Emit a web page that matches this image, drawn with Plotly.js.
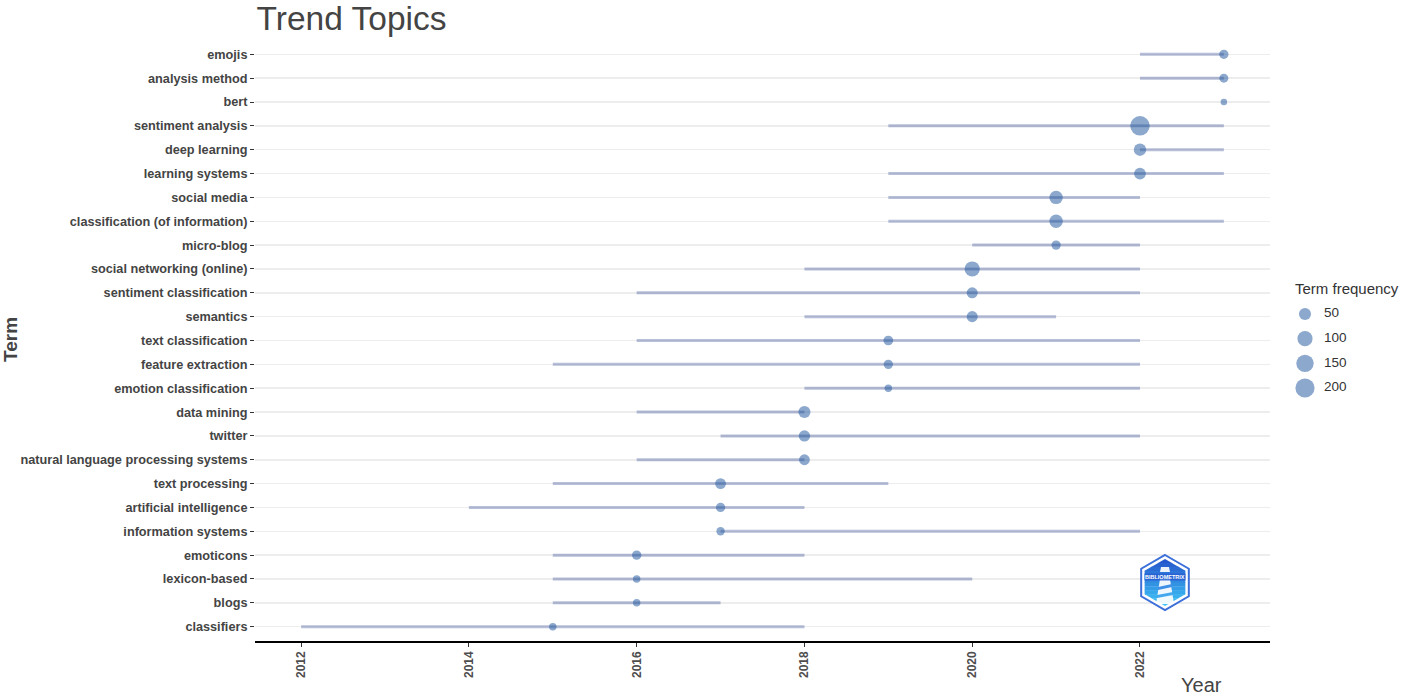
<!DOCTYPE html>
<html>
<head>
<meta charset="utf-8">
<script src="https://cdn.plot.ly/plotly-3.0.1.min.js"></script>
<style>html,body{margin:0;padding:0;background:#fff;}#chart{width:1408px;height:696px;}</style>
</head>
<body>
<div id="chart"></div>
<script>
// ---- data (top to bottom as shown) ----
const terms = ["emojis","analysis method","bert","sentiment analysis","deep learning","learning systems","social media","classification (of information)","micro-blog","social networking (online)","sentiment classification","semantics","text classification","feature extraction","emotion classification","data mining","twitter","natural language processing systems","text processing","artificial intelligence","information systems","emoticons","lexicon-based","blogs","classifiers"];
const yearQ1 = [2022,2022,2023,2019,2022,2019,2019,2019,2020,2018,2016,2018,2016,2015,2018,2016,2017,2016,2015,2014,2017,2015,2015,2015,2012];
const yearMedian = [2023,2023,2023,2022,2022,2022,2021,2021,2021,2020,2020,2020,2019,2019,2019,2018,2018,2018,2017,2017,2017,2016,2016,2016,2015];
const yearQ3 = [2023,2023,2023,2023,2023,2023,2022,2023,2022,2022,2022,2021,2022,2022,2022,2018,2022,2018,2019,2018,2022,2018,2020,2017,2018];
const termFreq = [23,21,14,209,54,46,69,69,23,100,38,38,26,23,15,50,41,35,35,23,18,23,15,15,15];
const legendFreq = [50,100,150,200];
const xTickVals = [2012,2014,2016,2018,2020,2022];

// ---- styling helpers ----
const FONT = "Liberation Sans, Arial, sans-serif";
const fMin = 14, fMax = 209, dMin = 6.5, dMax = 19.5;
function sizeOf(f){ const t = Math.max(0, Math.min(1.05, (f - fMin)/(fMax - fMin))); return dMin + (dMax - dMin)*Math.sqrt(t); }
const dotColor = "rgba(33,86,158,0.74)";
const segColor = "rgba(45,66,145,0.34)";

// segments
const segX = [], segY = [];
terms.forEach((t,i)=>{ segX.push(yearQ1[i], yearQ3[i], null); segY.push(t, t, null); });

const traces = [
  {type:"scatter", mode:"lines", x:segX, y:segY, line:{color:segColor, width:3}, hoverinfo:"skip", showlegend:false, xaxis:"x", yaxis:"y"},
  {type:"scatter", mode:"markers", x:yearMedian, y:terms, marker:{size:termFreq.map(sizeOf), color:dotColor, line:{width:0}}, showlegend:false, xaxis:"x", yaxis:"y"},
  // legend key
  {type:"scatter", mode:"markers", x:legendFreq.map(()=>20), y:legendFreq.map(String), marker:{size:legendFreq.map(sizeOf), color:dotColor, line:{width:0}}, showlegend:false, hoverinfo:"skip", xaxis:"x2", yaxis:"y2"},
  {type:"scatter", mode:"text", x:legendFreq.map(()=>39), y:legendFreq.map(String), text:legendFreq.map(String), textposition:"middle right", textfont:{family:FONT, size:13.5, color:"#333"}, showlegend:false, hoverinfo:"skip", xaxis:"x2", yaxis:"y2"}
];

// pixel -> paper helpers (plot area: left 255, top 40, width 1153, height 601)
const PL = 255, PT = 40, PW = 1153, PH = 601;
const fx = px => (px - PL)/PW;
const fy = py => (PT + PH - py)/PH;

// logo: hexagon with vertical gradient
const shapes = [];
function hexPath(cx, cy, R){
  let p = "";
  for(let k=0;k<6;k++){
    const a = Math.PI/2 - k*Math.PI/3;
    const x = cx + R*Math.cos(a), y = cy - R*Math.sin(a);
    p += (k===0?"M":"L") + fx(x).toFixed(5) + "," + fy(y).toFixed(5);
  }
  return p + "Z";
}
function halfW(dy, R){ const a = Math.abs(dy); if(a <= R/2) return Math.sqrt(3)/2*R; if(a>=R) return 0; return (R - a)*Math.sqrt(3); }
function bandPath(cx, cy, R, y0, y1){
  const ys = [y0];
  [cy - R/2, cy + R/2].forEach(v=>{ if(v>y0 && v<y1) ys.push(v); });
  ys.push(y1);
  const left = ys.map(y=>[cx - halfW(y-cy,R), y]);
  const right = ys.slice().reverse().map(y=>[cx + halfW(y-cy,R), y]);
  const pts = left.concat(right);
  return pts.map((q,i)=>(i===0?"M":"L")+fx(q[0]).toFixed(5)+","+fy(q[1]).toFixed(5)).join("")+"Z";
}
const LCX = 1165, LCY = 582.5;
shapes.push({type:"path", xref:"paper", yref:"paper", path:hexPath(LCX,LCY,27.5), fillcolor:"#ffffff", line:{color:"#3b6fd9", width:2}, layer:"above"});
const RI = 23.5, nb = 12;
const c0 = [38,88,205], c1 = [62,196,246];
for(let b=0;b<nb;b++){
  const y0 = LCY - RI + 2*RI*b/nb, y1 = LCY - RI + 2*RI*(b+1)/nb + 0.4;
  const t = b/(nb-1);
  const col = "rgb("+c0.map((v,i)=>Math.round(v+(c1[i]-v)*t)).join(",")+")";
  shapes.push({type:"path", xref:"paper", yref:"paper", path:bandPath(LCX,LCY,RI,y0,Math.min(y1,LCY+RI)), fillcolor:col, line:{width:0}, layer:"above"});
}
// lighthouse body
function polyPath(pts){ return pts.map((q,i)=>(i===0?"M":"L")+fx(q[0]).toFixed(5)+","+fy(q[1]).toFixed(5)).join("")+"Z"; }
shapes.push({type:"path", xref:"paper", yref:"paper", path:polyPath([[1160,579],[1170,579],[1174,604],[1156,604]]), fillcolor:"rgba(255,255,255,0.92)", line:{width:0}, layer:"above"});
shapes.push({type:"path", xref:"paper", yref:"paper", path:polyPath([[1161,567],[1169,567],[1170,572],[1160,572]]), fillcolor:"rgba(255,255,255,0.92)", line:{width:0}, layer:"above"});
shapes.push({type:"path", xref:"paper", yref:"paper", path:polyPath([[1158,587],[1172,584],[1172,587],[1158,590]]), fillcolor:"#3f8fe6", line:{width:0}, layer:"above"});
shapes.push({type:"path", xref:"paper", yref:"paper", path:polyPath([[1157,595],[1173,592],[1173,595],[1157,598]]), fillcolor:"#44a8ee", line:{width:0}, layer:"above"});

const annotations = [
  {text:"Term frequency", xref:"paper", yref:"paper", x:fx(1293), y:fy(288), xanchor:"left", yanchor:"middle", showarrow:false, font:{family:FONT, size:15, color:"#333"}},
  {text:"Year", xref:"paper", yref:"paper", x:fx(1201), y:fy(685), xanchor:"center", yanchor:"middle", showarrow:false, font:{family:FONT, size:20, color:"#444"}},
  {text:"<b>Term</b>", xref:"paper", yref:"paper", x:fx(10), y:fy(340), xanchor:"center", yanchor:"middle", textangle:-90, showarrow:false, font:{family:FONT, size:19, color:"#444"}},
  {text:"<b>BIBLIOMETRIX</b>", xref:"paper", yref:"paper", x:fx(1165), y:fy(576.5), xanchor:"center", yanchor:"middle", showarrow:false, font:{family:FONT, size:5.5, color:"#ffffff"}, bgcolor:"rgba(40,95,210,0.85)", borderpad:0}
];

const layout = {
  width:1408, height:696,
  paper_bgcolor:"#ffffff", plot_bgcolor:"rgba(0,0,0,0)",
  margin:{l:PL, r:0, t:PT, b:696-PT-PH, pad:0},
  showlegend:false,
  title:{text:"Trend Topics", x:0.1822, xanchor:"left", xref:"container", y:1-18/696, yanchor:"middle", yref:"container", font:{family:FONT, size:33.5, color:"#444"}},
  xaxis:{domain:[0, 1015/PW], range:[2011.45, 2023.55], tickmode:"array", tickvals:xTickVals, ticktext:xTickVals.map(String), tickangle:-90,
         tickfont:{family:FONT, size:12, color:"#4d4d4d", weight:"bold"}, ticks:"outside", ticklen:4, tickcolor:"#333", tickwidth:1,
         showgrid:false, zeroline:false, showline:true, linecolor:"#000", linewidth:1.5, fixedrange:true},
  yaxis:{domain:[0,1], type:"category", categoryorder:"array", categoryarray:terms, range:[terms.length-1+0.6, -0.6],
         tickfont:{family:FONT, size:12.7, color:"#444", weight:"bold"}, ticks:"outside", ticklen:4, tickcolor:"#333", tickwidth:1,
         showgrid:true, gridcolor:"#ededed", gridwidth:1.5, zeroline:false, showline:false, fixedrange:true},
  xaxis2:{domain:[fx(1285), fx(1405)], range:[0,120], anchor:"y2", visible:false, fixedrange:true},
  yaxis2:{domain:[fy(400.3), fy(301.7)], anchor:"x2", type:"category", categoryorder:"array", categoryarray:legendFreq.map(String), range:[3.5,-0.5], visible:false, fixedrange:true},
  shapes:shapes,
  annotations:annotations
};

Plotly.newPlot("chart", traces, layout, {displayModeBar:false, staticPlot:true});
</script>
</body>
</html>
